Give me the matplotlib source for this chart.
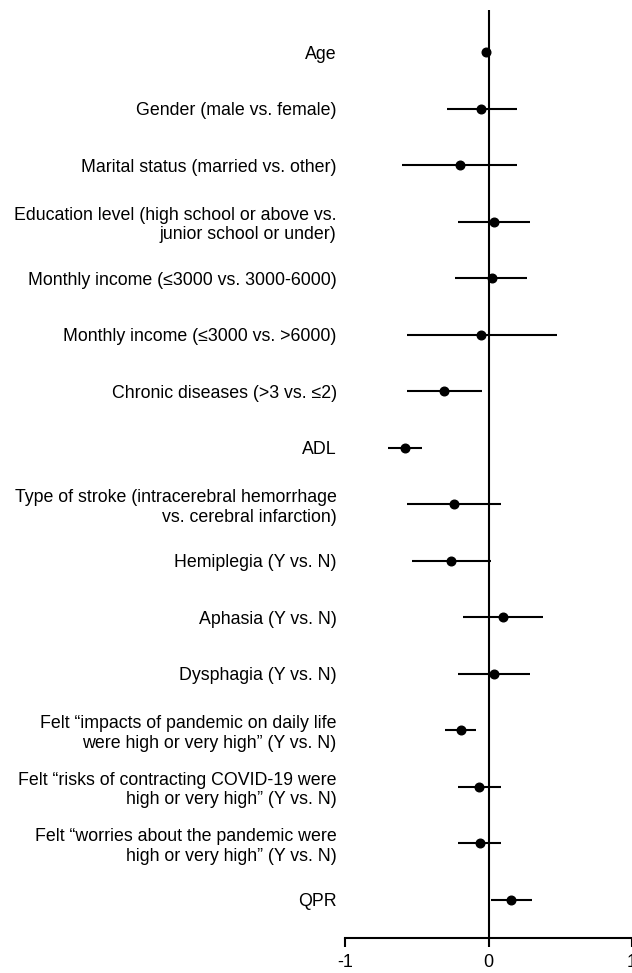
import matplotlib.pyplot as plt

plt.rcParams['font.family'] = ['Liberation Sans', 'DejaVu Sans']

labels = [
    'Age',
    'Gender (male vs. female)',
    'Marital status (married vs. other)',
    'Education level (high school or above vs.\njunior school or under)',
    'Monthly income (\u22643000 vs. 3000-6000)',
    'Monthly income (\u22643000 vs. >6000)',
    'Chronic diseases (>3 vs. \u22642)',
    'ADL',
    'Type of stroke (intracerebral hemorrhage\nvs. cerebral infarction)',
    'Hemiplegia (Y vs. N)',
    'Aphasia (Y vs. N)',
    'Dysphagia (Y vs. N)',
    'Felt \u201cimpacts of pandemic on daily life\nwere high or very high\u201d (Y vs. N)',
    'Felt \u201crisks of contracting COVID-19 were\nhigh or very high\u201d (Y vs. N)',
    'Felt \u201cworries about the pandemic were\nhigh or very high\u201d (Y vs. N)',
    'QPR',
]

# point estimate and confidence limits
estimate = [-0.02, -0.05, -0.20, 0.035, 0.023, -0.05, -0.31, -0.58,
            -0.24, -0.26, 0.098, 0.04, -0.195, -0.063, -0.06, 0.158]
lower = [-0.045, -0.29, -0.60, -0.21, -0.23, -0.57, -0.57, -0.70,
         -0.57, -0.53, -0.18, -0.21, -0.30, -0.21, -0.21, 0.02]
upper = [-0.005, 0.20, 0.20, 0.29, 0.27, 0.48, -0.047, -0.46,
         0.088, 0.014, 0.377, 0.29, -0.087, 0.086, 0.086, 0.30]

fig = plt.figure(figsize=(6.32, 9.73), dpi=100)
ax = fig.add_axes([345 / 632, 35.3 / 973, 287 / 632, (937.7 - 10) / 973])

rows = list(range(len(labels)))
ax.axvline(0, color='black', lw=1.5, zorder=1)
ax.hlines(rows, lower, upper, color='black', lw=1.5, zorder=2)
ax.plot(estimate, rows, 'o', color='black', markersize=6.2, zorder=3)

ax.set_xlim(-1, 1)
ax.set_ylim(len(labels) - 1 + 0.667, -0.743)
ax.set_xticks([-1, 0, 1])
ax.set_xticklabels(['-1', '0', '1'], fontsize=13)
ax.set_yticks(rows)
ax.set_yticklabels(labels, fontsize=12.8, linespacing=1.18)

for s in ['left', 'right', 'top']:
    ax.spines[s].set_visible(False)
ax.spines['bottom'].set_linewidth(1.5)
ax.tick_params(axis='y', length=0, pad=6)
ax.tick_params(axis='x', length=6.5, width=1.5, pad=5)

fig.savefig('out.png', dpi=100)
